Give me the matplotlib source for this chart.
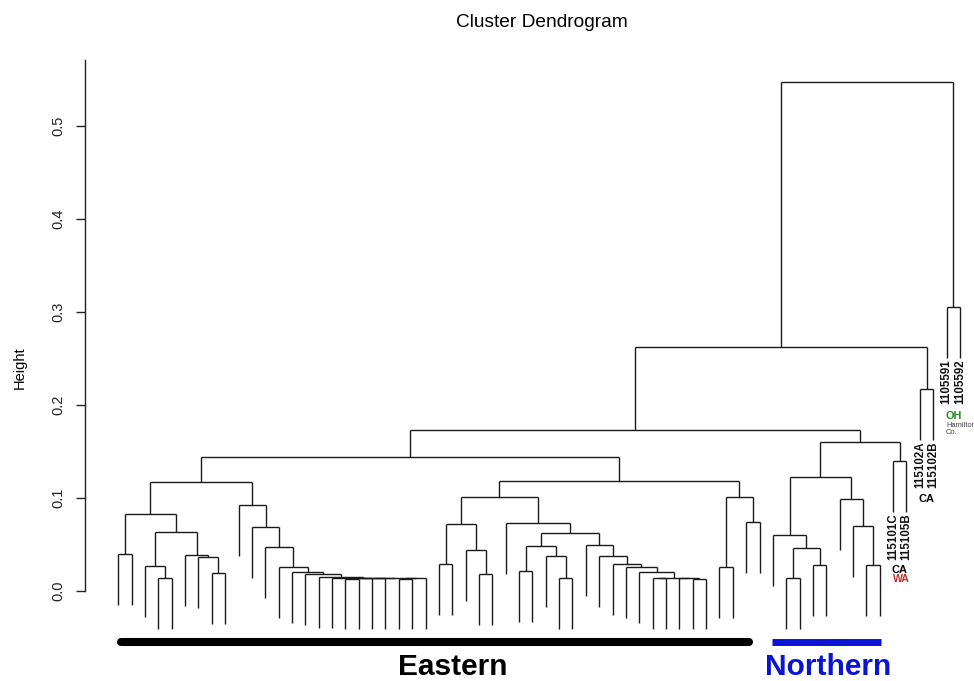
import matplotlib
matplotlib.use("Agg")
import matplotlib.pyplot as plt
from matplotlib.collections import LineCollection

plt.rcParams['font.family'] = ['Liberation Sans', 'DejaVu Sans']

# ---------------- data (R hclust style) ----------------
# leaves numbered 1..64 in display order; negative = leaf, positive = earlier merge (1-based)
merge_left = [-1, -4, -3, -8, -7, -6, 3, 1,
              -18, 9, 10, -22, 12, 11, -17, -16, -15, -14, -13, -12, -11, -10, 8,
              -25, -28, -27, 24, -31, -34, -33, 28,
              -41, -44, -43, 32, -40, -39, -38, -37, -36, 31, -30, 27, -46, -48, 44, 43, 23,
              -51, -53, 49, -50, -57, -56, -55, 52, -59, 56, 48, -61, 59, -63, 61]
merge_right = [-2, -5, 2, -9, 4, 5, 6, 7,
               -19, -20, -21, -23, -24, 13, 14, 15, 16, 17, 18, 19, 20, 21, 22,
               -26, -29, 25, 26, -32, -35, 29, 30,
               -42, -45, 33, 34, 35, 36, 37, 38, 39, 40, 41, 42, -47, -49, 45, 46, 47,
               -52, -54, 50, 51, -58, 53, 54, 55, -60, 57, 58, -62, 60, -64, 62]
merge_height = [0.0392, 0.0133, 0.0262, 0.0194, 0.0366, 0.0384, 0.0628, 0.0822,
                0.0131, 0.0133, 0.0135, 0.0130, 0.0132, 0.0138, 0.0142, 0.0151, 0.0176,
                0.0200, 0.0258, 0.0467, 0.0682, 0.0922, 0.1173,
                0.0284, 0.0176, 0.0441, 0.0714, 0.0209, 0.0133, 0.0373, 0.0478,
                0.0133, 0.0131, 0.0135, 0.0140, 0.0198, 0.0251, 0.0287, 0.0377, 0.0488,
                0.0617, 0.0725, 0.1008, 0.0251, 0.0739, 0.1011, 0.1177, 0.1442,
                0.0133, 0.0273, 0.0456, 0.0599, 0.0273, 0.0696, 0.0983, 0.1220,
                0.1399, 0.1597, 0.1729, 0.2170, 0.2625, 0.3056, 0.5473]

leaf_labels = {59: "115101C", 60: "115105B", 61: "115102A", 62: "115102B",
               63: "1105591", 64: "1105592"}
y_ticks = [0.0, 0.1, 0.2, 0.3, 0.4, 0.5]
y_tick_labels = ["0.0", "0.1", "0.2", "0.3", "0.4", "0.5"]
group_names = ["Eastern", "Northern"]

hang = 0.1 * max(merge_height)

# ---------------- layout of leaves via traversal ----------------
n_merge = len(merge_height)
order = []
def traverse(node):
    if node < 0:
        order.append(-node)
    else:
        traverse(merge_left[node - 1])
        traverse(merge_right[node - 1])
traverse(n_merge)
leaf_x = {leaf: i for i, leaf in enumerate(order)}

node_x = {}
segs = []
leaf_bottom = {}
for k in range(n_merge):
    h = merge_height[k]
    xs = []
    for child in (merge_left[k], merge_right[k]):
        if child < 0:
            cx = leaf_x[-child]
            cy = h - hang
            leaf_bottom[-child] = cy
        else:
            cx = node_x[child]
            cy = merge_height[child - 1]
        segs.append([(cx, cy), (cx, h)])
        xs.append(cx)
    segs.append([(xs[0], h), (xs[1], h)])
    node_x[k + 1] = (xs[0] + xs[1]) / 2

# ---------------- figure ----------------
W, H = 974, 681
fig = plt.figure(figsize=(W / 100, H / 100), dpi=100)
n_leaf = len(order)
ax = fig.add_axes([84.6 / W, 1 - 651.4 / H, 909.0 / W, (651.4 - 60.0) / H])
ax.set_xlim(-0.04 * (n_leaf - 1), (n_leaf - 1) * 1.04)
ax.set_ylim(-0.0653, 0.5710)

ax.add_collection(LineCollection(segs, colors="#1a1a1a", linewidths=1.0))

for sp in ("top", "right", "bottom"):
    ax.spines[sp].set_visible(False)
ax.spines["left"].set_bounds(0, 0.5710)
ax.spines["left"].set_linewidth(1.0)
ax.spines["left"].set_color("#222222")
ax.set_xticks([])
ax.set_yticks(y_ticks)
ax.set_yticklabels(y_tick_labels, rotation=90, va="center", fontsize=10.5)
ax.tick_params(axis="y", length=6.5, width=1.0, pad=7, colors="#222222")

fig.text(542 / W, 1 - 27.3 / H, "Cluster Dendrogram", ha="center", va="baseline", fontsize=13.8)
fig.text(20 / W, 1 - 368 / H, "Height", rotation=90, ha="center", va="center", fontsize=10.5)

for leaf, lab in leaf_labels.items():
    ax.annotate(lab, (leaf_x[leaf], leaf_bottom[leaf]), xytext=(0, -1.5),
                textcoords="offset points", rotation=90, ha="center", va="top",
                fontsize=8.3, fontweight="bold", color="#111111", annotation_clip=False)

# region annotations
ax.text(58.5, 0.0228, "CA", ha="center", va="center", fontsize=7.9, fontweight="bold", color="black")
ax.text(58.6, 0.0121, "WA", ha="center", va="center", fontsize=7.6, fontweight="bold", color="#c0302a")
ax.text(60.5, 0.0987, "CA", ha="center", va="center", fontsize=7.9, fontweight="bold", color="black")
ax.text(61.95, 0.1876, "OH", ha="left", va="center", fontsize=7.8, fontweight="bold", color="#1e8c1e")
ax.text(61.95, 0.1781, "Hamilton", ha="left", va="center", fontsize=5.4, color="#444444")
ax.text(61.95, 0.1702, "Co.", ha="left", va="center", fontsize=5.4, color="#444444")

# group bars
bar_y = -0.0552
ax.plot([0.2, 47.2], [bar_y, bar_y], color="black", lw=5.8, solid_capstyle="round", clip_on=False)
ax.plot([48.97, 57.09], [bar_y, bar_y], color="#0a14d2", lw=5.0, solid_capstyle="butt", clip_on=False)
fig.text(453 / W, 1 - 675 / H, group_names[0], ha="center", va="baseline", fontsize=21.5,
         fontweight="bold", color="black")
fig.text(828 / W, 1 - 675 / H, group_names[1], ha="center", va="baseline", fontsize=21.5,
         fontweight="bold", color="#0a14d2")

fig.savefig("out.png", dpi=100)
